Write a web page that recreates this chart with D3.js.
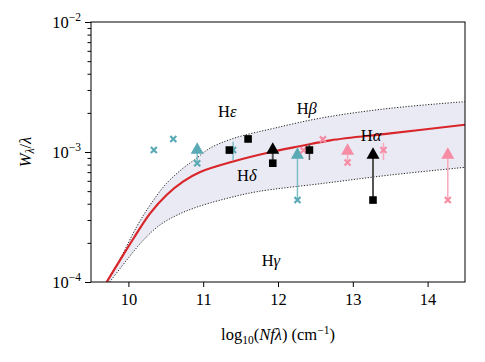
<!DOCTYPE html>
<html><head><meta charset="utf-8">
<script src="https://cdn.jsdelivr.net/npm/d3@7"></script>
<style>
body{margin:0;background:#fff}
svg{display:block}
text{font-family:"Liberation Serif","DejaVu Serif",serif;fill:#000}
</style>
</head><body>
<svg id="c" width="485" height="362"></svg>
<script>
// ---- data ----
const xTicks = [10, 11, 12, 13, 14];
const yMajor = [1e-4, 1e-3, 1e-2];
const yMinor = [2e-4,3e-4,4e-4,5e-4,6e-4,7e-4,8e-4,9e-4,2e-3,3e-3,4e-3,5e-3,6e-3,7e-3,8e-3,9e-3];
const yTickExp = ["−4", "−3", "−2"];

// curve of growth (red) and envelope (dotted)
const redX = [9.71, 9.89, 10.07, 10.29, 10.51, 10.73, 10.96, 11.40, 11.85, 12.29, 12.70, 13.50, 14.5];
const redW = [1.00e-4, 1.48e-4, 2.17e-4, 3.37e-4, 4.67e-4, 5.92e-4, 7.02e-4, 8.45e-4, 9.82e-4, 1.107e-3, 1.23e-3, 1.39e-3, 1.62e-3];
const upX = [9.71, 9.89, 10.11, 10.29, 10.51, 10.73, 10.91, 11.09, 11.40, 11.94, 12.61, 13.50, 14.5];
const upW = [1.00e-4, 1.51e-4, 2.66e-4, 3.91e-4, 5.74e-4, 7.50e-4, 8.95e-4, 1.07e-3, 1.27e-3, 1.52e-3, 1.84e-3, 2.17e-3, 2.44e-3];
const loX = [9.75, 9.98, 10.20, 10.42, 10.65, 10.91, 11.30, 11.72, 12.61, 13.50, 14.5];
const loW = [1.00e-4, 1.48e-4, 2.10e-4, 2.74e-4, 3.27e-4, 3.76e-4, 4.37e-4, 4.95e-4, 5.74e-4, 6.65e-4, 7.62e-4];

// measurements: teal (crosses), black (squares), pink (crosses)
const tealPts = [[10.34,1.035e-3],[10.60,1.26e-3],[10.92,8.2e-4],[11.40,1.035e-3],[12.26,4.27e-4]];
const tealTri = [[10.92,1.07e-3],[12.26,9.8e-4]];
const tealArrowFrom = [2, 4];
const tealErr = [[11.40, 8.67e-4, 1.20e-3]];

const blackPts = [[11.35,1.035e-3],[11.60,1.26e-3],[11.93,8.2e-4],[12.42,1.035e-3],[13.27,4.27e-4]];
const blackTri = [[11.93,1.07e-3],[13.27,9.77e-4]];
const blackArrowFrom = [2, 4];
const blackErr = [[12.42, 8.67e-4, 1.15e-3]];

const pinkPts = [[12.34,1.03e-3],[12.60,1.25e-3],[12.93,8.3e-4],[13.41,1.035e-3],[14.27,4.27e-4]];
const pinkTri = [[12.93,1.05e-3],[14.27,9.77e-4]];
const pinkArrowFrom = [2, 4];
const pinkErr = [[13.41, 8.67e-4, 1.18e-3]];

// line labels (anchor in data coordinates)
const lineNames = ["ε", "δ", "β", "α", "γ"];
const lineLabX = [11.198, 11.452, 12.25, 13.106, 11.782];
const lineLabW = [1.875e-3, 5.98e-4, 1.943e-3, 1.205e-3, 1.327e-4];

// ---- drawing ----
const svg = d3.select("#c");
const L = 91, R = 465, T = 22, B = 282;
const x = d3.scaleLinear().domain([9.5, 14.5]).range([L, R]);
const y = d3.scaleLog().domain([1e-4, 1e-2]).range([B, T]);

const TEAL = "#5aaab6", TEAL_L = "#7fc0c8";
const PINK = "#f78ca5", PINK_L = "#f8a9bb";
const RED = "#d8262a";

svg.append("defs").append("clipPath").attr("id","clip")
  .append("rect").attr("x",L).attr("y",T).attr("width",R-L).attr("height",B-T);
const g = svg.append("g").attr("clip-path","url(#clip)");

const upPts = upX.map((v,i)=>[v, upW[i]]);
const loPts = loX.map((v,i)=>[v, loW[i]]);
const redPts = redX.map((v,i)=>[v, redW[i]]);
const line = d3.line().x(d=>x(d[0])).y(d=>y(d[1])).curve(d3.curveCatmullRom.alpha(0.5));

// band
const bandD = line(upPts) + "L" + line(loPts.slice().reverse()).slice(1) + "Z";
g.append("path").attr("d", bandD).attr("fill", "#eaeaf4").attr("stroke","none");

g.append("path").attr("d", line(upPts)).attr("fill","none").attr("stroke","#222")
  .attr("stroke-width",1).attr("stroke-dasharray","1.2,1.6");
g.append("path").attr("d", line(loPts)).attr("fill","none").attr("stroke","#222")
  .attr("stroke-width",1).attr("stroke-dasharray","1.2,1.6");
g.append("path").attr("d", line(redPts)).attr("fill","none").attr("stroke",RED)
  .attr("stroke-width",2.2);

// markers
const triPath = "M0,-6L6.5,5.5L-6.5,5.5Z";
function crossPath(s){ return `M${-s},${-s}L${s},${s}M${-s},${s}L${s},${-s}`; }

function drawSeries(pts, tris, arrowFrom, errs, color, lineColor, lineW, kind){
  const gg = svg.append("g");
  errs.forEach(e=>{
    gg.append("line").attr("x1",x(e[0])).attr("x2",x(e[0]))
      .attr("y1",y(e[1])).attr("y2",y(e[2]))
      .attr("stroke",lineColor).attr("stroke-width",1.5);
  });
  arrowFrom.forEach((pi,k)=>{
    const p = pts[pi], t = tris[k];
    gg.append("line").attr("x1",x(p[0])).attr("x2",x(t[0]))
      .attr("y1",y(p[1])).attr("y2",y(t[1]))
      .attr("stroke",lineColor).attr("stroke-width",lineW);
  });
  pts.forEach(p=>{
    if(kind==="square"){
      gg.append("rect").attr("x",x(p[0])-3.8).attr("y",y(p[1])-3.8)
        .attr("width",7.6).attr("height",7.6).attr("fill",color);
    } else {
      gg.append("path").attr("d",crossPath(3))
        .attr("transform",`translate(${x(p[0])},${y(p[1])})`)
        .attr("stroke",color).attr("stroke-width",2.2).attr("fill","none");
    }
  });
  tris.forEach(t=>{
    gg.append("path").attr("d",triPath)
      .attr("transform",`translate(${x(t[0])},${y(t[1])})`)
      .attr("fill",color);
  });
}
drawSeries(tealPts, tealTri, tealArrowFrom, tealErr, TEAL, TEAL_L, 1.5, "cross");
drawSeries(pinkPts, pinkTri, pinkArrowFrom, pinkErr, PINK, PINK_L, 1.5, "cross");
drawSeries(blackPts, blackTri, blackArrowFrom, blackErr, "#000", "#555", 2, "square");

// labels
lineNames.forEach((n,i)=>{
  const t = svg.append("text").attr("x",x(lineLabX[i])).attr("y",y(lineLabW[i]))
    .attr("font-size","16.5px");
  t.append("tspan").text("H");
  t.append("tspan").attr("font-style","italic").text(n);
});

// frame
svg.append("rect").attr("x",L).attr("y",T).attr("width",R-L).attr("height",B-T)
  .attr("fill","none").attr("stroke","#000").attr("stroke-width",1);

// x axis
const xa = svg.append("g").attr("transform",`translate(0,${B})`)
  .call(d3.axisBottom(x).tickValues(xTicks).tickSize(5).tickPadding(6).tickFormat(d3.format("d")));
xa.select(".domain").remove();
xa.attr("font-family",null);
xa.selectAll("text").attr("font-size","16.5px").attr("fill","#000");

// y axis
const ya = svg.append("g").attr("transform",`translate(${L},0)`)
  .call(d3.axisLeft(y).tickValues(yMajor).tickSize(6).tickPadding(4).tickFormat(()=>""));
ya.select(".domain").remove();
ya.attr("font-family",null);
ya.selectAll(".tick text").each(function(d,i){
  const t = d3.select(this).attr("font-size","16.5px").attr("fill","#000").attr("dy","0.32em");
  t.text("");
  t.append("tspan").text("10");
  t.append("tspan").attr("font-size","11.5px").attr("dy","-0.55em").text(yTickExp[i]);
});
const ym = svg.append("g").attr("transform",`translate(${L},0)`)
  .call(d3.axisLeft(y).tickValues(yMinor).tickSize(3.5).tickFormat(()=>""));
ym.select(".domain").remove();

// axis titles
const xl = svg.append("text").attr("x",(L+R)/2).attr("y",340).attr("text-anchor","middle").attr("font-size","16.5px");
xl.append("tspan").text("log");
xl.append("tspan").attr("font-size","11.5px").attr("dy","0.35em").text("10");
xl.append("tspan").attr("dy","-0.24em").text("(");
xl.append("tspan").attr("font-style","italic").text("Nfλ");
xl.append("tspan").text(") (cm");
xl.append("tspan").attr("font-size","11.5px").attr("dy","-0.5em").text("−1");
xl.append("tspan").attr("dy","0.35em").text(")");

const yl = svg.append("text").attr("transform",`translate(31,${(T+B)/2}) rotate(-90)`)
  .attr("text-anchor","middle").attr("font-size","16.5px");
yl.append("tspan").attr("font-style","italic").text("W");
yl.append("tspan").attr("font-style","italic").attr("font-size","11.5px").attr("dy","0.3em").text("λ");
yl.append("tspan").attr("dy","-0.2em").text("/");
yl.append("tspan").attr("font-style","italic").text("λ");
</script>
</body></html>
